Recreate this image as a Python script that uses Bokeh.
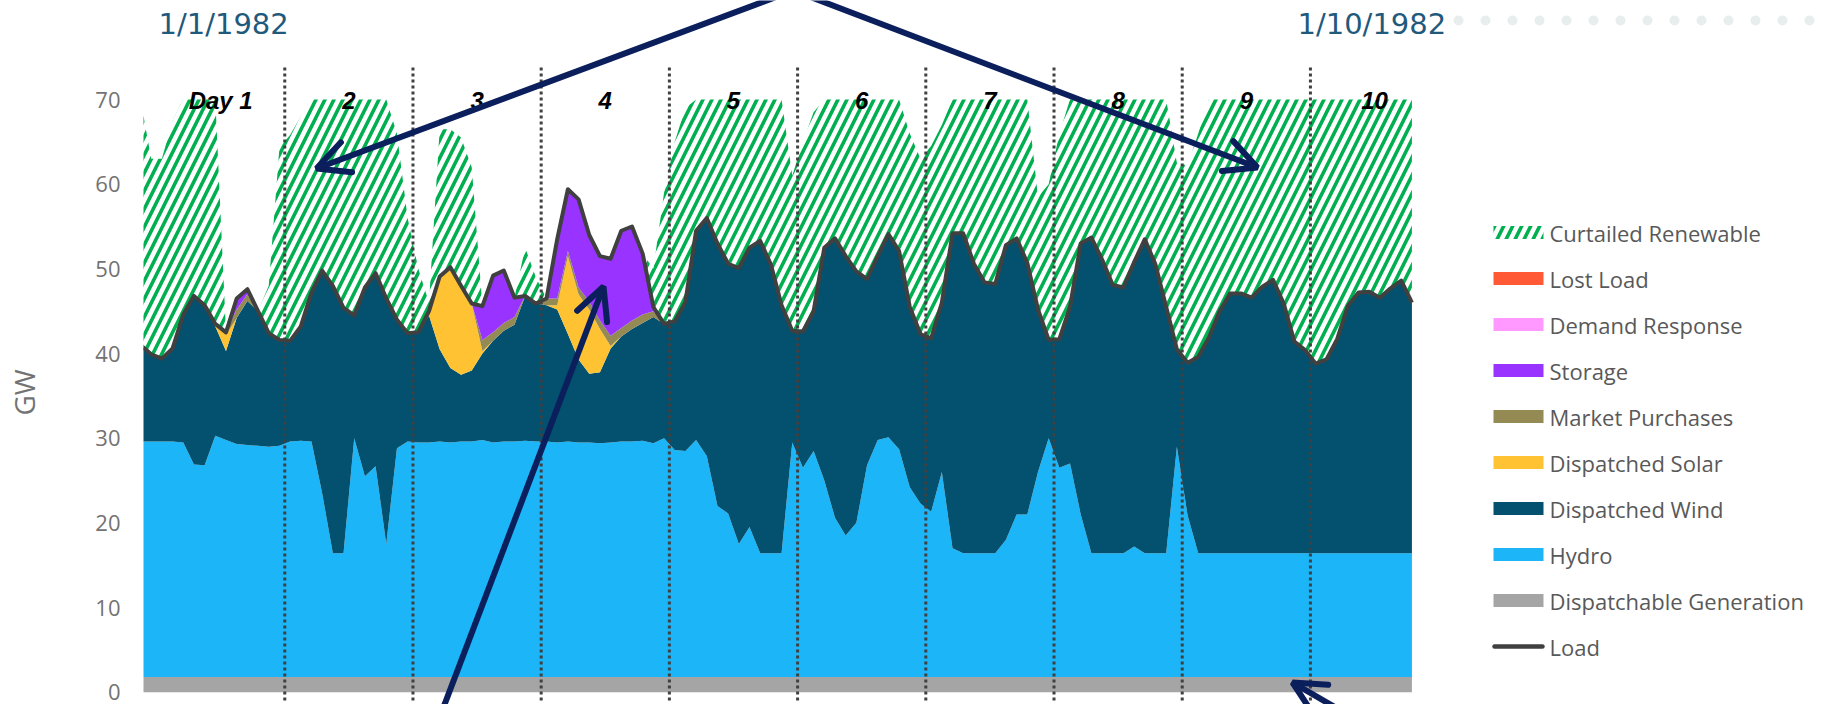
import numpy as np
from bokeh.plotting import figure
from bokeh.models import Range1d, FixedTicker, Arrow, OpenHead
from bokeh.core.properties import value
from bokeh.embed import file_html
from bokeh.resources import INLINE

# ---------------- data (GW, every 2 hours over 10 days) ----------------
hours = list(range(0, 240, 2))

load_gw = [
    41.0, 39.9, 39.4, 40.6, 44.6, 46.8, 45.7, 43.5, 42.5, 46.5, 47.6, 45.0,
    42.4, 41.6, 41.5, 43.2, 47.2, 49.8, 48.0, 45.4, 44.5, 47.8, 49.5, 46.5,
    44.0, 42.4, 42.5, 45.0, 49.1, 50.2, 48.0, 45.9, 45.6, 49.2, 49.8, 46.6,
    46.8, 45.9, 46.5, 53.5, 59.4, 58.2, 54.0, 51.5, 51.2, 54.5, 55.0, 51.8,
    45.5, 43.5, 43.8, 46.1, 54.5, 56.0, 53.0, 50.6, 50.1, 52.5, 53.3, 50.5,
    45.7, 42.7, 42.6, 45.0, 52.5, 53.6, 51.5, 49.7, 48.8, 51.5, 54.1, 52.1,
    45.5, 42.3, 41.8, 46.0, 54.2, 54.2, 50.6, 48.4, 48.2, 52.8, 53.6, 50.7,
    45.2, 41.6, 41.7, 45.5, 53.0, 53.7, 51.1, 48.1, 47.8, 50.8, 53.5, 50.5,
    45.5, 40.5, 38.9, 39.6, 41.9, 45.0, 47.1, 47.1, 46.6, 47.9, 48.7, 45.9,
    41.4, 40.4, 38.8, 39.3, 41.7, 45.6, 47.2, 47.3, 46.6, 47.7, 48.6, 46.0,
]

dispatchable_gw = [1.8] * 120

hydro_gw = [
    27.8, 27.8, 27.8, 27.8, 27.7, 25.1, 25.0, 28.5, 28.0, 27.5, 27.4, 27.3,
    27.2, 27.3, 27.8, 27.9, 27.8, 21.7, 14.6, 14.6, 28.2, 23.7, 24.9, 15.7,
    27.0, 27.8, 27.7, 27.7, 27.8, 27.7, 27.8, 27.8, 28.0, 27.7, 27.8, 27.8,
    27.9, 27.8, 27.8, 27.7, 27.8, 27.7, 27.7, 27.6, 27.7, 27.8, 27.8, 27.9,
    27.6, 28.2, 26.8, 26.7, 28.0, 26.1, 20.2, 19.3, 15.7, 17.7, 14.6, 14.6,
    14.6, 27.7, 24.7, 26.7, 23.2, 18.8, 16.7, 18.2, 25.0, 28.0, 28.3, 26.9,
    22.4, 20.5, 19.5, 24.2, 15.2, 14.6, 14.6, 14.6, 14.6, 16.2, 19.2, 19.2,
    24.2, 28.2, 24.7, 25.2, 19.2, 14.6, 14.6, 14.6, 14.6, 15.4, 14.6, 14.6,
    14.6, 27.2, 19.1, 14.6, 14.6, 14.6, 14.6, 14.6, 14.6, 14.6, 14.6, 14.6,
    14.6, 14.6, 14.6, 14.6, 14.6, 14.6, 14.6, 14.6, 14.6, 14.6, 14.6, 14.6,
]

wind_gw = [
    11.4, 10.3, 9.8, 11.0, 15.1, 19.9, 18.9, 12.9, 10.5, 14.9, 17.0, 15.9,
    13.4, 12.5, 11.9, 13.5, 17.6, 26.3, 31.6, 29.0, 14.5, 22.3, 22.8, 29.0,
    15.2, 12.8, 13.0, 15.0, 10.9, 8.8, 7.9, 8.4, 10.2, 12.0, 13.1, 13.8,
    17.1, 16.3, 16.1, 15.7, 12.7, 9.8, 8.1, 8.4, 11.1, 12.4, 13.3, 13.9,
    14.9, 13.5, 15.2, 17.6, 24.7, 28.1, 31.0, 29.5, 32.6, 33.0, 36.9, 34.1,
    29.3, 13.2, 16.1, 16.5, 27.5, 33.0, 33.0, 29.7, 22.0, 21.7, 24.0, 23.4,
    21.3, 20.0, 20.5, 20.0, 37.2, 37.8, 34.2, 32.0, 31.8, 34.8, 32.6, 29.7,
    19.2, 11.6, 15.2, 18.5, 32.0, 37.3, 34.7, 31.7, 31.4, 33.6, 37.1, 34.1,
    29.1, 11.5, 18.0, 23.2, 25.5, 28.6, 30.7, 30.7, 30.2, 31.5, 32.3, 29.5,
    25.0, 24.0, 22.4, 22.9, 25.3, 29.2, 30.8, 30.9, 30.2, 31.3, 32.2, 29.6,
]

solar_gw = [
    0, 0, 0, 0, 0, 0, 0, 0.3, 1.9, 0, 0, 0,
    0, 0, 0, 0, 0, 0, 0, 0, 0, 0, 0, 0,
    0, 0, 0, 0.5, 8.6, 11.9, 10.5, 7.9, 0.3, 0, 0, 0,
    0, 0, 0, 0.5, 9.2, 7.7, 7.6, 5.1, 0.3, 0, 0, 0,
    0, 0, 0, 0, 0, 0, 0, 0, 0, 0, 0, 0,
    0, 0, 0, 0, 0, 0, 0, 0, 0, 0, 0, 0,
    0, 0, 0, 0, 0, 0, 0, 0, 0, 0, 0, 0,
    0, 0, 0, 0, 0, 0, 0, 0, 0, 0, 0, 0,
    0, 0, 0, 0, 0, 0, 0, 0, 0, 0, 0, 0,
    0, 0, 0, 0, 0, 0, 0, 0, 0, 0, 0, 0,
]

market_gw = [
    0, 0, 0, 0, 0, 0, 0, 0, 0.3, 1.0, 0.8, 0,
    0, 0, 0, 0, 0, 0, 0, 0, 0, 0, 0, 0,
    0, 0, 0, 0, 0, 0, 0, 0, 1.3, 1.0, 0.9, 0.9,
    0, 0, 0.8, 0.8, 0.6, 0.8, 0.9, 1.0, 1.2, 1.0, 1.0, 1.0,
    0.7, 0, 0, 0, 0, 0, 0, 0, 0, 0, 0, 0,
    0, 0, 0, 0, 0, 0, 0, 0, 0, 0, 0, 0,
    0, 0, 0, 0, 0, 0, 0, 0, 0, 0, 0, 0,
    0, 0, 0, 0, 0, 0, 0, 0, 0, 0, 0, 0,
    0, 0, 0, 0, 0, 0, 0, 0, 0, 0, 0, 0,
    0, 0, 0, 0, 0, 0, 0, 0, 0, 0, 0, 0,
]

storage_gw = [
    0, 0, 0, 0, 0, 0, 0, 0, 0, 1.3, 0.6, 0,
    0, 0, 0, 0, 0, 0, 0, 0, 0, 0, 0, 0,
    0, 0, 0, 0, 0, 0, 0, 0, 4.0, 6.7, 6.2, 2.3,
    0, 0, 0, 7.0, 7.3, 10.4, 7.9, 7.6, 9.1, 11.5, 11.1, 7.2,
    0.5, 0, 0, 0, 0, 0, 0, 0, 0, 0, 0, 0,
    0, 0, 0, 0, 0, 0, 0, 0, 0, 0, 0, 0,
    0, 0, 0, 0, 0, 0, 0, 0, 0, 0, 0, 0,
    0, 0, 0, 0, 0, 0, 0, 0, 0, 0, 0, 0,
    0, 0, 0, 0, 0, 0, 0, 0, 0, 0, 0, 0,
    0, 0, 0, 0, 0, 0, 0, 0, 0, 0, 0, 0,
]

demand_response_gw = [0.0] * 120
lost_load_gw = [0.0] * 120

curtailed_gw = [
    29.0, 23.1, 23.6, 26.9, 25.4, 23.2, 24.3, 26.5, 0, 0, 0, 0,
    5.6, 22.7, 24.3, 24.8, 22.8, 20.2, 22.0, 24.6, 25.5, 22.2, 20.5, 23.5,
    22.0, 13.6, 7.5, 1.0, 17.4, 16.3, 17.5, 16.1, 0, 0, 0, 0,
    5.7, 3.1, 0, 0, 0, 0, 0, 0, 0, 0, 0, 0,
    4.5, 15.5, 21.2, 22.9, 15.5, 14.0, 17.0, 19.4, 19.9, 17.5, 16.7, 19.5,
    24.3, 18.3, 22.4, 23.5, 17.5, 16.4, 18.5, 20.3, 21.2, 18.5, 15.9, 17.9,
    20.5, 20.7, 22.7, 21.0, 15.8, 15.8, 19.4, 21.6, 21.8, 17.2, 16.4, 19.3,
    13.3, 18.4, 24.3, 24.5, 17.0, 16.3, 18.9, 21.9, 22.2, 19.2, 16.5, 19.5,
    24.5, 22.0, 23.3, 26.4, 28.1, 25.0, 22.9, 22.9, 23.4, 22.1, 21.3, 24.1,
    28.6, 29.6, 31.2, 30.7, 28.3, 24.4, 22.8, 22.7, 23.4, 22.3, 21.4, 24.0,
]

day_bounds = [27, 51, 75, 99, 123, 147, 171, 195, 219]
day_labels = ["Day 1", "2", "3", "4", "5", "6", "7", "8", "9", "10"]
date_labels = ["1/1/1982", "1/10/1982"]
y_ticks = [0, 10, 20, 30, 40, 50, 60, 70]

# ---------------- layout helpers (page pixels -> data) ----------------
FX0, FXS = 142.7, 5.342
FY0, FYS = 691.7, 8.467


def hx(px):
    return 0.5 + (px - FX0) / FXS


def gy(py):
    return (FY0 - py) / FYS


W, H, LEFT = 1833, 704, 143
NAVY = "#0b1f5c"
GREEN = "#00b050"
FONT = value("Open Sans")
GREY_TXT = "#737373"

p = figure(width=W, height=H, output_backend="svg", toolbar_location=None,
           x_range=Range1d(hx(LEFT), hx(W)),
           y_range=Range1d(gy(H), gy(0)),
           x_axis_location=None,
           min_border_left=LEFT, min_border_right=0,
           min_border_top=0, min_border_bottom=0)
p.outline_line_color = None
p.grid.visible = False
p.background_fill_color = "white"
p.border_fill_color = "white"

# y axis
ax = p.yaxis[0]
ax.bounds = (y_ticks[0], y_ticks[-1])
ax.ticker = FixedTicker(ticks=y_ticks)
ax.axis_line_color = None
ax.major_tick_line_color = None
ax.minor_tick_line_color = None
ax.major_tick_out = 0
ax.major_tick_in = 0
ax.major_label_text_font = "Open Sans"
ax.major_label_text_font_size = "22px"
ax.major_label_text_color = GREY_TXT
ax.major_label_standoff = 23
# title centred on the panel; trailing no-break spaces move the visible
# "GW" down to the middle of the 0-70 span as in the reference
ax.axis_label = "GW" + "\u00a0" * 11
ax.axis_label_text_font = "Open Sans"
ax.axis_label_text_font_size = "28px"
ax.axis_label_text_font_style = "normal"
ax.axis_label_text_color = GREY_TXT
ax.axis_label_standoff = 49

# ---------------- stacked areas ----------------
layers = [
    ("Dispatchable Generation", dispatchable_gw, "#a5a5a5"),
    ("Hydro", hydro_gw, "#1bb5f8"),
    ("Dispatched Wind", wind_gw, "#03506f"),
    ("Dispatched Solar", solar_gw, "#fec233"),
    ("Market Purchases", market_gw, "#948a54"),
    ("Storage", storage_gw, "#9933ff"),
    ("Demand Response", demand_response_gw, "#ff99ff"),
    ("Lost Load", lost_load_gw, "#ff5a35"),
]
base = np.zeros(len(hours))
for name, vals, color in layers:
    top = base + np.array(vals, dtype=float)
    p.varea(x=hours, y1=base, y2=top, fill_color=color)
    base = top

L = np.array(load_gw)
p.varea(x=hours, y1=L, y2=L + np.array(curtailed_gw), fill_alpha=0,
        hatch_pattern="/", hatch_color=GREEN, hatch_weight=3.6, hatch_scale=18)

p.line(hours, load_gw, line_color="#404040", line_width=4, line_join="round")

# day separators (dotted)
p.segment(x0=day_bounds, y0=gy(700), x1=day_bounds, y1=73.9,
          line_color="#404040", line_width=3, line_dash="3 3")

# day labels centred on each day
day_centres = [b - 12 for b in day_bounds] + [day_bounds[-1] + 12]
p.text(x=day_centres, y=69.9, text=day_labels, text_font=value("Liberation Sans"),
       text_font_style="bold italic", text_font_size="24px", text_color="black",
       text_align="center", text_baseline="middle")

# date labels
p.text(x=[hx(158), hx(1297)], y=gy(23), text=date_labels, text_font=value("DejaVu Sans"),
       text_font_size="29px", text_color="#1f5a7c", text_align="left", text_baseline="middle")

# faint decorative dots top-right
p.scatter(x=[hx(1458 + 27 * k) for k in range(14)], y=gy(20), size=10,
          fill_color="#e8eeee", line_color=None)

# ---------------- manual legend ----------------
legend_entries = [
    ("Curtailed Renewable", "hatch", GREEN),
    ("Lost Load", "box", "#ff5a35"),
    ("Demand Response", "box", "#ff99ff"),
    ("Storage", "box", "#9933ff"),
    ("Market Purchases", "box", "#948a54"),
    ("Dispatched Solar", "box", "#fec233"),
    ("Dispatched Wind", "box", "#03506f"),
    ("Hydro", "box", "#1bb5f8"),
    ("Dispatchable Generation", "box", "#a5a5a5"),
    ("Load", "line", "#404040"),
]
ly = [gy(232 + 46 * i) for i in range(len(legend_entries))]
gx = hx(1518)
for (lab, kind, col), yy in zip(legend_entries, ly):
    if kind == "box":
        p.rect(x=gx, y=yy, width=50, height=13, width_units="screen", height_units="screen",
               fill_color=col, line_color=None)
    elif kind == "hatch":
        p.rect(x=gx, y=yy, width=50, height=13, width_units="screen", height_units="screen",
               fill_alpha=0, line_color=None, hatch_pattern="/", hatch_color=col,
               hatch_weight=3.6, hatch_scale=18)
    else:
        p.segment(x0=hx(1494), y0=yy, x1=hx(1542), y1=yy, line_color=col,
                  line_width=4.5, line_cap="round")
p.text(x=hx(1549), y=ly, text=[e[0] for e in legend_entries], text_font=FONT,
       text_font_size="22px", text_color="#595959", text_align="left", text_baseline="middle")

# ---------------- annotation arrows ----------------
def arrow(x0, y0, x1, y1):
    p.add_layout(Arrow(end=OpenHead(size=32, line_color=NAVY, line_width=6, line_cap="round"),
                       x_start=hx(x0), y_start=gy(y0), x_end=hx(x1), y_end=gy(y1),
                       line_color=NAVY, line_width=6))

arrow(793, -10, 316, 168)
arrow(793, -10, 1257, 167)
arrow(441, 712, 603, 286)
arrow(1335, 707, 1292, 682)

open("out.html", "w").write(file_html(p, INLINE))
